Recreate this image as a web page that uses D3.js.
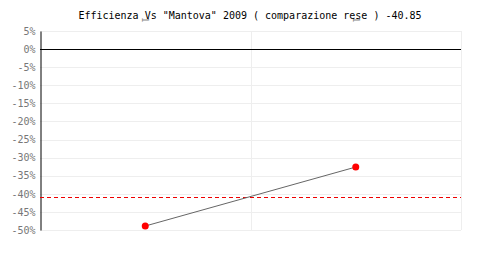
<!DOCTYPE html>
<meta charset="utf-8">
<html>
<head>
<script src="https://d3js.org/d3.v7.min.js"></script>
<style>
  body { margin: 0; background: #fff; }
  text { font-family: "DejaVu Sans Mono", monospace; }
</style>
</head>
<body>
<div id="chart"></div>
<script>
var categories = ["1", "1"];
var values = [-48.9, -32.6];
var average = -40.85;
var yTicks = [5, 0, -5, -10, -15, -20, -25, -30, -35, -40, -45, -50];
var title = 'Efficienza Vs "Mantova" 2009 ( comparazione rese ) -40.85';

var width = 500, height = 280;
var marginLeft = 40, marginRight = 39, marginTop = 31, marginBottom = 50;

var svg = d3.select("#chart").append("svg")
    .attr("width", width)
    .attr("height", height);

var x = d3.scaleBand()
    .domain(d3.range(categories.length))
    .range([marginLeft, width - marginRight]);
var y = d3.scaleLinear()
    .domain([-50, 5])
    .range([height - marginBottom, marginTop]);

// grid
svg.append("g")
    .selectAll("line")
    .data(yTicks)
    .join("line")
    .attr("x1", marginLeft)
    .attr("x2", width - marginRight)
    .attr("y1", d => Math.round(y(d)) + 0.5)
    .attr("y2", d => Math.round(y(d)) + 0.5)
    .attr("stroke", "#eeeeee");
svg.append("g")
    .selectAll("line")
    .data(d3.range(categories.length + 1).slice(1))
    .join("line")
    .attr("x1", i => Math.round(marginLeft + i * x.step()) + 0.5)
    .attr("x2", i => Math.round(marginLeft + i * x.step()) + 0.5)
    .attr("y1", marginTop)
    .attr("y2", height - marginBottom)
    .attr("stroke", "#eeeeee");

// zero line
svg.append("line")
    .attr("x1", marginLeft)
    .attr("x2", width - marginRight)
    .attr("y1", Math.round(y(0)) + 0.5)
    .attr("y2", Math.round(y(0)) + 0.5)
    .attr("stroke", "#000");

// y axis
var yAxis = d3.axisLeft(y).tickValues(yTicks).tickSize(0).tickPadding(5)
    .tickFormat(d => d + "%");
svg.append("g")
    .attr("transform", `translate(${marginLeft + 0.5},0)`)
    .call(yAxis)
    .call(g => g.select(".domain").attr("stroke", "#000"))
    .call(g => g.selectAll("text")
        .attr("fill", "#777")
        .style("font-family", "DejaVu Sans Mono, monospace")
        .style("font-size", "10px"));

// x labels at top, rotated
svg.append("g")
    .selectAll("text")
    .data(categories)
    .join("text")
    .attr("transform", (d, i) => `translate(${x(i) + x.bandwidth() / 2 - 3},17) rotate(90)`)
    .attr("fill", "#888")
    .style("font-size", "9px")
    .text(d => d);

// average dashed line
svg.append("line")
    .attr("x1", marginLeft)
    .attr("x2", width - marginRight)
    .attr("y1", Math.round(y(average)) + 0.5)
    .attr("y2", Math.round(y(average)) + 0.5)
    .attr("stroke", "#e00")
    .attr("stroke-dasharray", "4,3");

// series line
var line = d3.line()
    .x((d, i) => x(i) + x.bandwidth() / 2)
    .y(d => y(d));
svg.append("path")
    .datum(values)
    .attr("d", line)
    .attr("fill", "none")
    .attr("stroke", "#666")
    .attr("stroke-width", 1);

svg.append("g")
    .selectAll("circle")
    .data(values)
    .join("circle")
    .attr("cx", (d, i) => x(i) + x.bandwidth() / 2)
    .attr("cy", d => y(d))
    .attr("r", 3.5)
    .attr("fill", "#ff0000");

// title
svg.append("text")
    .attr("x", width / 2)
    .attr("y", 19)
    .attr("text-anchor", "middle")
    .attr("fill", "#000")
    .style("font-size", "10px")
    .text(title);
</script>
</body>
</html>
